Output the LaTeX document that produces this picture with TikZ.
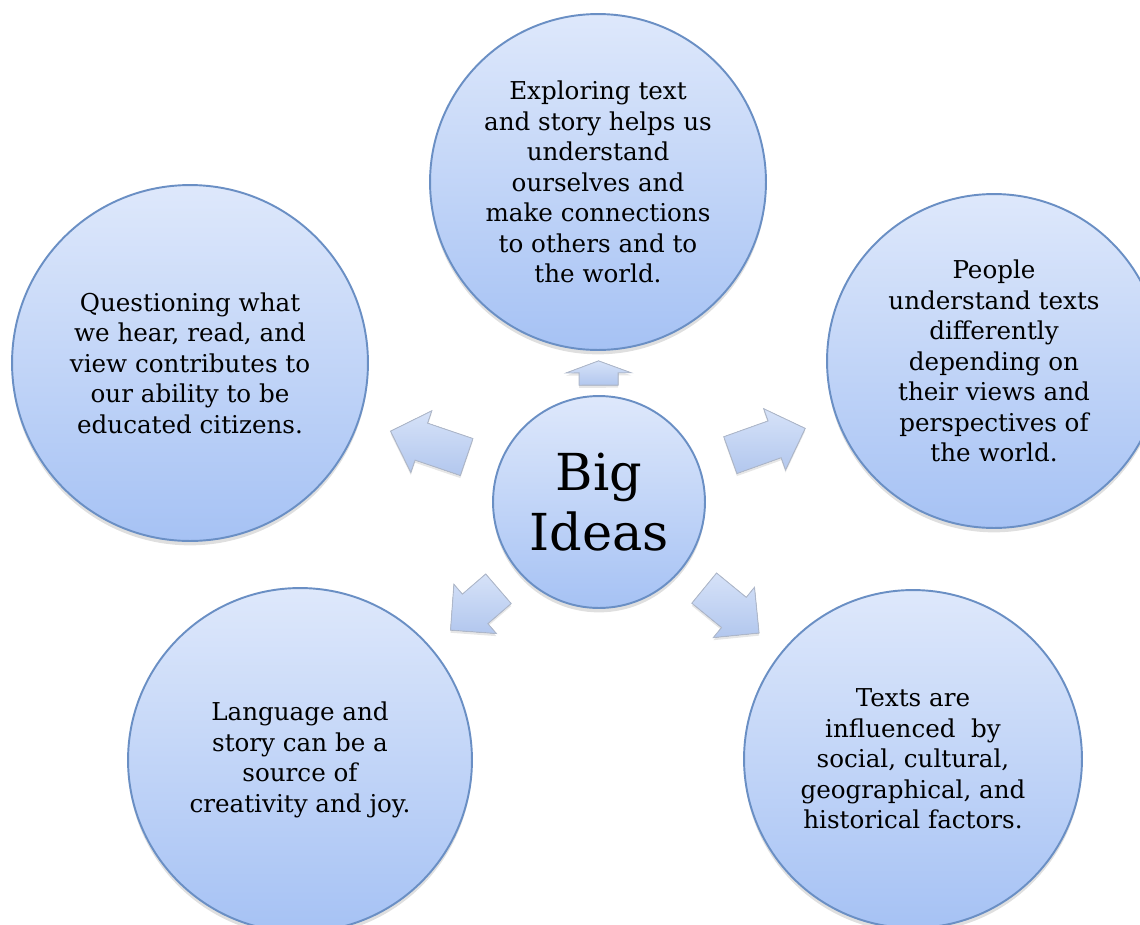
\documentclass[tikz,border=0pt]{standalone}
\usepackage{fontspec}
\setmainfont{DejaVu Serif}
\usetikzlibrary{calc,shadows}

\definecolor{ringblue}{HTML}{6A8FC4}
\definecolor{filltop}{HTML}{DEE8FB}
\definecolor{fillbot}{HTML}{A6C2F4}
\definecolor{arrtop}{HTML}{D6E2F8}
\definecolor{arrbot}{HTML}{B2C7EE}
\definecolor{arredge}{HTML}{AEB8CB}

\tikzset{
  idea/.style={circle, draw=ringblue, line width=1.1pt, top color=filltop, bottom color=fillbot,
    inner sep=0pt, align=center, font=\fontsize{14}{17.4}\selectfont,
    drop shadow={shadow xshift=0pt, shadow yshift=-2.5pt, opacity=.25}},
  arrowbox/.style={draw=arredge, line width=0.5pt, top color=arrtop, bottom color=arrbot,
    drop shadow={shadow xshift=0pt, shadow yshift=-1.5pt, opacity=.2}}
}

\newcommand{\bigarrow}[3]{%
  \path ($(#2)!#3!(#1)$) coordinate (hb);
  \filldraw[arrowbox] ($(#1)!0.39cm!90:(#2)$) -- ($(hb)!0.39cm!90:(#2)$) -- ($(hb)!0.65cm!90:(#2)$) -- (#2)
    -- ($(hb)!0.65cm!-90:(#2)$) -- ($(hb)!0.39cm!-90:(#2)$) -- ($(#1)!0.39cm!-90:(#2)$) -- cycle;
}

\begin{document}
\begin{tikzpicture}[x=0.02cm, y=-0.02cm]
		\useasboundingbox (0,0) rectangle (1140,924);
		\node[idea, minimum size=6.72cm] (explore) at (598,182) {Exploring text\\and story helps us\\understand\\ourselves and\\make connections\\to others and to\\the world.};
		\node[idea, minimum size=7.12cm] (question) at (190,363) {Questioning what\\we hear, read, and\\view contributes to\\our ability to be\\educated citizens.};
		\node[idea, minimum size=6.68cm] (people) at (994,361) {People\\understand texts\\differently\\depending on\\their views and\\perspectives of\\the world.};
		\node[idea, minimum size=6.88cm] (language) at (300,760) {Language and\\story can be a\\source of\\creativity and joy.};
		\node[idea, minimum size=6.76cm] (texts) at (913,759) {Texts are\\influenced\ \ by\\social, cultural,\\geographical, and\\historical factors.};
		\node[idea, minimum size=4.24cm, font=\fontsize{29}{34}\selectfont] (big) at (599,502) {Big\\Ideas};
		
		\path (big) -- (explore) coordinate[pos=.225] (s1) coordinate[pos=.775] (e1);
		\path (big) -- (question) coordinate[pos=.225] (s2) coordinate[pos=.775] (e2);
		\path (big) -- (people) coordinate[pos=.225] (s3) coordinate[pos=.775] (e3);
		\path (big) -- (language) coordinate[pos=.225] (s4) coordinate[pos=.775] (e4);
		\path (big) -- (texts) coordinate[pos=.225] (s5) coordinate[pos=.775] (e5);
		
		\bigarrow{s1}{e1}{0.24cm}
		\bigarrow{s2}{e2}{0.65cm}
		\bigarrow{s3}{e3}{0.65cm}
		\bigarrow{s4}{e4}{0.65cm}
		\bigarrow{s5}{e5}{0.65cm}
		
		\end{tikzpicture}
\end{document}
